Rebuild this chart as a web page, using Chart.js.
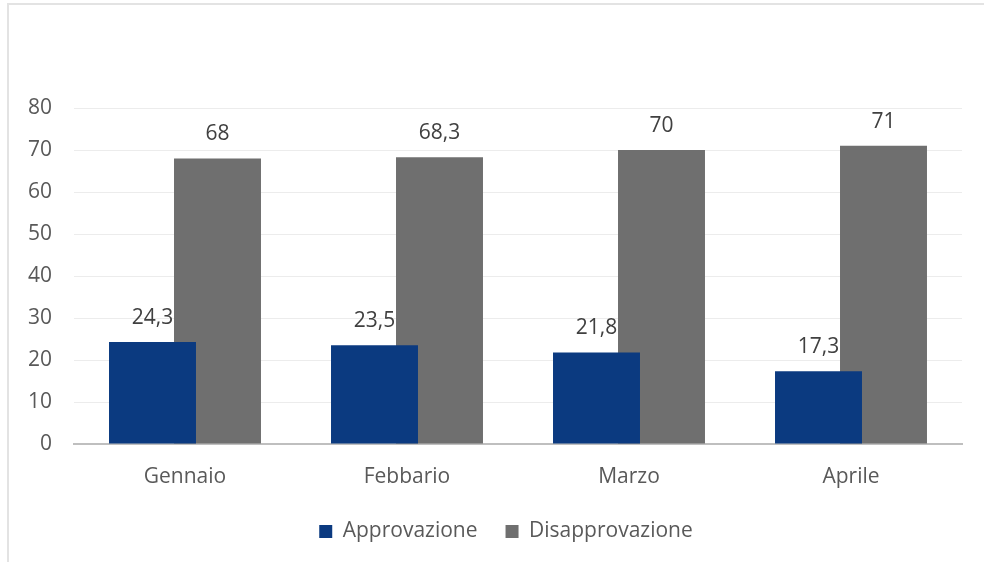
<!DOCTYPE html>
<html>
<head>
<meta charset="utf-8">
<script src="https://cdn.jsdelivr.net/npm/chart.js@4"></script>
<style>
  html, body { margin: 0; padding: 0; background: #fff; }
  #wrap { position: relative; width: 984px; height: 562px; overflow: hidden; }
  #frame { position: absolute; left: 7px; top: 3px; width: 1100px; height: 700px; border: 2px solid #e3e3e3; }
  #c { position: absolute; left: 0; top: 0; }
</style>
</head>
<body>
<div id="wrap">
  <div id="frame"></div>
  <canvas id="c" width="984" height="562"></canvas>
</div>
<script>
// dati del grafico
const mesi = ['Gennaio', 'Febbario', 'Marzo', 'Aprile'];
const approvazione = [24.3, 23.5, 21.8, 17.3];
const disapprovazione = [68, 68.3, 70, 71];
const serie = ['Approvazione', 'Disapprovazione'];
const yTicks = [0, 10, 20, 30, 40, 50, 60, 70, 80];

const colori = { blu: '#0b3a80', grigio: '#6f6f6f', testo: '#595959', etichetta: '#404040', griglia: '#ececec', asse: '#bfbfbf' };
const font = { family: "'Open Sans', 'Noto Sans', sans-serif", size: 21 };

// etichette sopra le barre
const etichette = {
  id: 'etichette',
  afterDatasetsDraw(chart) {
    const ctx = chart.ctx;
    ctx.save();
    ctx.font = `21px ${font.family}`;
    ctx.fillStyle = colori.etichetta;
    ctx.textAlign = 'center';
    ctx.textBaseline = 'middle';
    chart.data.datasets.forEach((ds, i) => {
      chart.getDatasetMeta(i).data.forEach((bar, j) => {
        ctx.fillText(String(ds.data[j]).replace('.', ','), bar.x, bar.y - 24);
      });
    });
    ctx.restore();
  }
};

// sposta la legenda come nell'originale
const spostaLegenda = {
  id: 'spostaLegenda',
  afterLayout(chart) {
    chart.legend.left += 25;
    chart.legend.right += 25;
    chart.legend.top -= 9;
    chart.legend.bottom -= 9;
  }
};

new Chart(document.getElementById('c'), {
  type: 'bar',
  data: {
    labels: mesi,
    datasets: [
      { label: serie[0], data: approvazione, backgroundColor: colori.blu, barPercentage: 1.338, categoryPercentage: 0.5856 },
      { label: serie[1], data: disapprovazione, backgroundColor: colori.grigio, barPercentage: 1.338, categoryPercentage: 0.5856 },
    ],
  },
  options: {
    responsive: false,
    animation: false,
    layout: { padding: { top: 108, right: 22, bottom: 1, left: 0 } },
    plugins: {
      legend: {
        position: 'bottom',
        labels: { font, color: colori.testo, boxWidth: 13, boxHeight: 13, padding: 28 },
      },
      tooltip: { enabled: false },
    },
    scales: {
      x: {
        grid: { display: false },
        border: { color: colori.asse, width: 2 },
        ticks: { font, color: colori.testo, padding: 12 },
        afterFit: s => { s.height = 58; },
      },
      y: {
        min: 0, max: 80,
        afterBuildTicks: s => { s.ticks = yTicks.map(v => ({ value: v })); },
        grid: { color: colori.griglia, drawTicks: false },
        border: { display: false },
        ticks: { font, color: colori.testo, padding: 22 },
        afterFit: s => { s.width = 74; },
      },
    },
  },
  plugins: [etichette, spostaLegenda],
});
</script>
</body>
</html>
